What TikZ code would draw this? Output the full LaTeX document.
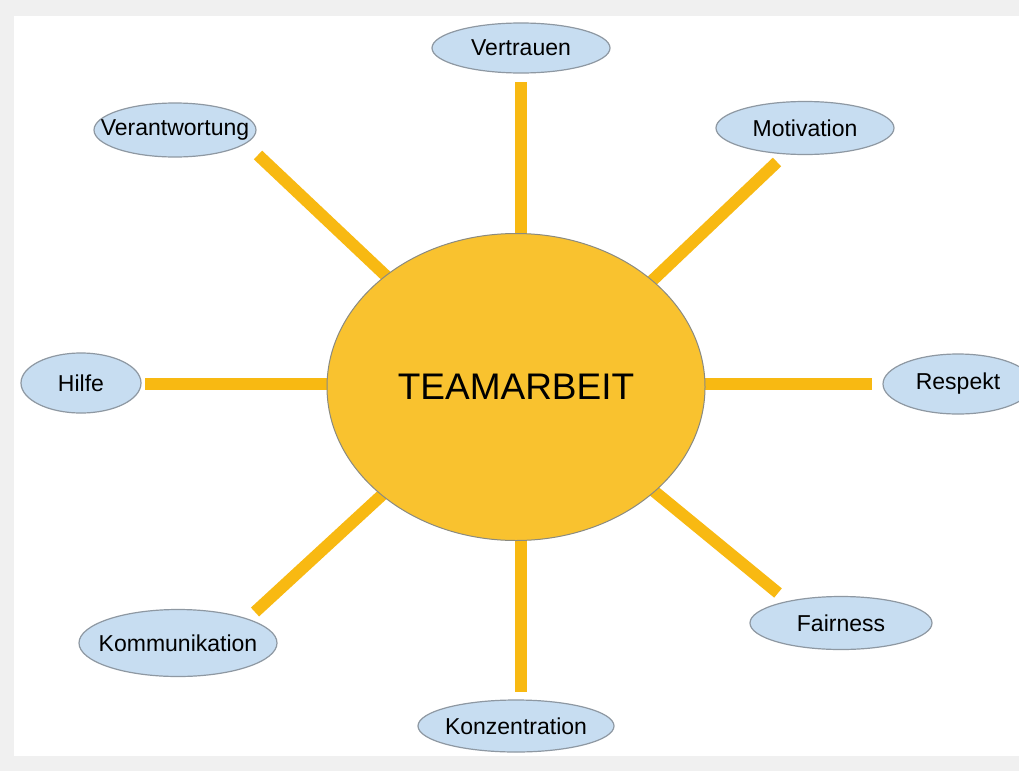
\documentclass[tikz,border=0pt]{standalone}
\usepackage{fontspec}
\setmainfont{Liberation Sans}
\usetikzlibrary{shapes.geometric}
\definecolor{hub}{HTML}{F9C22F}
\definecolor{spokecol}{HTML}{F8B912}
\definecolor{leaf}{HTML}{C7DDF1}
\definecolor{leafline}{HTML}{8E98A2}
\definecolor{hubline}{HTML}{8A8A80}
\definecolor{frame}{HTML}{F0F0F0}
\tikzset{
  leafnode/.style={ellipse, draw=leafline, line width=1.2pt, fill=leaf, inner sep=0pt,
    font=\fontsize{23}{23}\selectfont, text=black},
  hubnode/.style={ellipse, draw=hubline, line width=1pt, fill=hub, inner sep=0pt,
    minimum width=378pt, minimum height=307pt, font=\fontsize{37}{37}\selectfont, text=black},
  spoke/.style={draw=spokecol, line width=12pt}
}
\newcommand{\lbl}[1]{\makebox[0pt]{#1}}
\begin{document}
\begin{tikzpicture}[x=1pt,y=-1pt]
\useasboundingbox (0,0) rectangle (1019,771);
\fill[frame] (0,0) rectangle (1019,771);
\fill[white] (14,16) rectangle (1019,756);
% spoke coordinates
\coordinate (s1) at (521,300); \coordinate (e1) at (521,82);
\coordinate (s2) at (420,308); \coordinate (e2) at (258,155);
\coordinate (s3) at (615,316); \coordinate (e3) at (777,162);
\coordinate (s4) at (400,384); \coordinate (e4) at (145,384);
\coordinate (s5) at (640,384); \coordinate (e5) at (872,384);
\coordinate (s6) at (420,460); \coordinate (e6) at (255,612);
\coordinate (s7) at (610,455); \coordinate (e7) at (778,593);
\coordinate (s8) at (521,480); \coordinate (e8) at (521,692);
\foreach \i in {1,...,8} {\draw[spoke] (s\i) -- (e\i);}
% hub
\node[hubnode] (hub) at (516,387) {TEAMARBEIT};
% leaves
\node[leafnode, minimum width=178pt, minimum height=50pt] (vertrauen) at (521,48) {\lbl{Vertrauen}};
\node[leafnode, minimum width=162pt, minimum height=54pt] (verantwortung) at (175,130) {\lbl{Verantwortung}};
\node[leafnode, minimum width=178pt, minimum height=53pt] (motivation) at (805,128) {\lbl{Motivation}};
\node[leafnode, minimum width=120pt, minimum height=60pt] (hilfe) at (81,383) {\lbl{Hilfe}};
\node[leafnode, minimum width=150pt, minimum height=60pt] (respekt) at (958,384) {\lbl{Respekt}};
\node[leafnode, minimum width=198pt, minimum height=67pt] (kommunikation) at (178,643) {\lbl{Kommunikation}};
\node[leafnode, minimum width=182pt, minimum height=53pt] (fairness) at (841,623) {\lbl{Fairness}};
\node[leafnode, minimum width=196pt, minimum height=52pt] (konzentration) at (516,726) {\lbl{Konzentration}};
\end{tikzpicture}
\end{document}
